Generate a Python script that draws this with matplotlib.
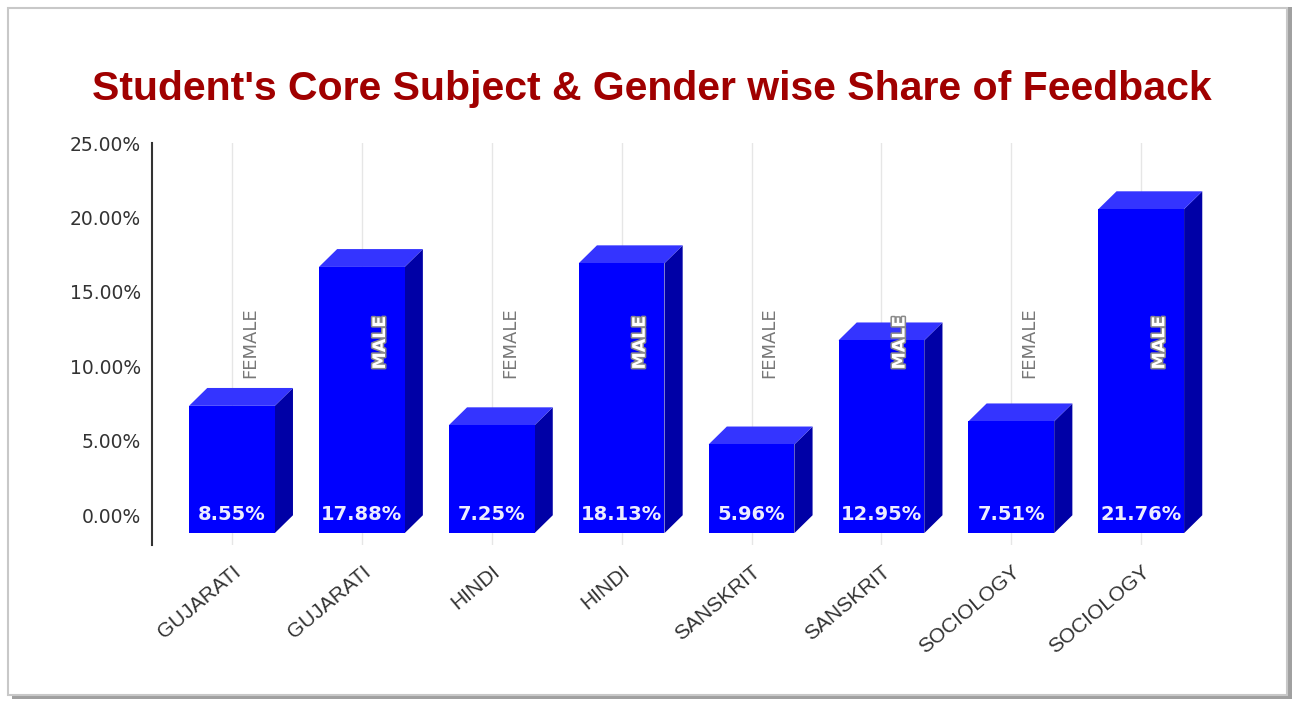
import matplotlib.pyplot as plt
from matplotlib.patches import Polygon, Rectangle
import matplotlib.patheffects as pe

# data
subjects = ['GUJARATI', 'GUJARATI', 'HINDI', 'HINDI', 'SANSKRIT', 'SANSKRIT', 'SOCIOLOGY', 'SOCIOLOGY']
genders = ['FEMALE', 'MALE', 'FEMALE', 'MALE', 'FEMALE', 'MALE', 'FEMALE', 'MALE']
shares = [8.55, 17.88, 7.25, 18.13, 5.96, 12.95, 7.51, 21.76]
y_ticks = [0, 5, 10, 15, 20, 25]

BAR_W = 0.66   # front face width (category units)
DX = 0.14      # depth offset x
DY = 1.2       # depth offset y (percent)
NARROW = ['Liberation Sans Narrow', 'DejaVu Sans']

fig = plt.figure(figsize=(12.95, 7.02), dpi=100)

# card border with drop shadow
fig.patches.append(Rectangle((0.009, 0.004), 0.989, 0.986, transform=fig.transFigure,
                             facecolor='#a0a0a0', edgecolor='none', zorder=-2))
fig.patches.append(Rectangle((0.006, 0.010), 0.988, 0.979, transform=fig.transFigure,
                             facecolor='white', edgecolor='#c8c8c8', linewidth=1.5, zorder=-1))

ax = fig.add_axes([0.1174, 0.2236, 0.814, 0.5726])
ax.set_facecolor('none')

for i , v in enumerate(shares):
    l , r = i - BAR_W / 2 , i + BAR_W / 2
    front = Polygon([(l, -DY), (r, -DY), (r, v - DY), (l, v - DY)], closed=True,
                    facecolor='#0000ff', edgecolor='none', zorder=3)
    top = Polygon([(l, v - DY), (r, v - DY), (r + DX, v), (l + DX, v)], closed=True,
                  facecolor='#3434ff', edgecolor='none', zorder=3)
    side = Polygon([(r, -DY), (r + DX, 0), (r + DX, v), (r, v - DY)], closed=True,
                   facecolor='#0000a6', edgecolor='none', zorder=3)
    for p in (side, top, front):
        ax.add_patch(p)

    # value label at the foot of the bar
    ax.text(i, 0.05, '%.2f%%' % v, ha='center', va='center', color='#ececff',
            fontsize=14, fontweight='bold', family='DejaVu Sans', zorder=5)

    # gender label
    if genders[i] == 'MALE':
        ax.text(i + DX, 11.6, genders[i], rotation=90, ha='center', va='center',
                color='white', fontsize=12.5, fontweight='bold', family=NARROW, zorder=5,
                path_effects=[pe.withStroke(linewidth=2.2, foreground='#8a8a8a')])
    else:
        ax.text(i + DX, 11.6, genders[i], rotation=90, ha='center', va='center',
                color='#777777', fontsize=13, family=NARROW, zorder=5)

ax.set_xlim(-0.615, 7.5)
ax.set_ylim(-2, 25)
ax.set_yticks(y_ticks)
ax.set_yticklabels(['%.2f%%' % t for t in y_ticks], fontsize=13.5, color='#333333',
                   family='DejaVu Sans')
ax.set_xticks(range(len(subjects)))
ax.set_xticklabels(subjects, rotation=40, ha='right', rotation_mode='anchor',
                   fontsize=15, color='#333333', family='Liberation Sans')
ax.tick_params(axis='y', length=0, pad=8)
ax.tick_params(axis='x', length=0, pad=12)

ax.grid(axis='x', color='#e6e6e6', linewidth=1, zorder=0)
ax.set_axisbelow(True)
for s in ('top', 'right', 'bottom'):
    ax.spines[s].set_visible(False)
ax.spines['left'].set_color('#333333')
ax.spines['left'].set_linewidth(1.5)

fig.text(0.503, 1 - 89 / 702, "Student's Core Subject & Gender wise Share of Feedback",
         ha='center', va='center', color='#a00000', fontsize=29.5, fontweight='bold',
         family='Liberation Sans')

fig.savefig('out.png', dpi=100)
